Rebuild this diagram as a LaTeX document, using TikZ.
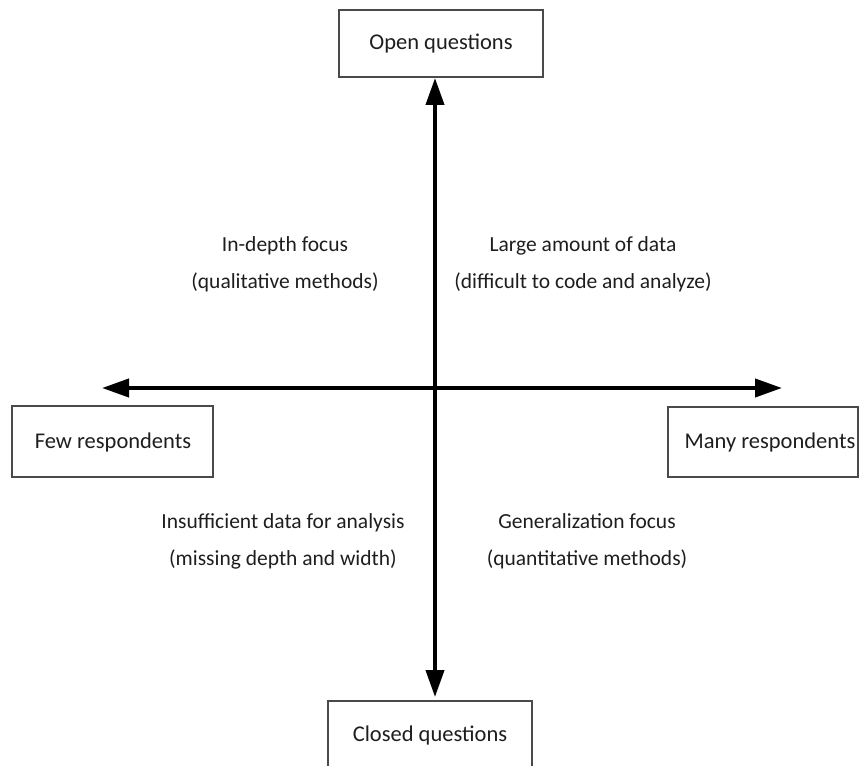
\documentclass[tikz,border=0pt]{standalone}
\usepackage{fontspec}
\setmainfont{Carlito}
\usetikzlibrary{arrows.meta}
\definecolor{ink}{HTML}{1E1E1E}
\definecolor{frame}{HTML}{4A4A4A}
\begin{document}
\begin{tikzpicture}[x=1pt,y=-1pt,
  labelbox/.style={draw=frame,line width=1.3pt,fill=white},
  labeltext/.style={text=ink,font=\fontsize{22.5}{26}\selectfont},
  note/.style={text=ink,align=center,font=\fontsize{21.5}{37}\selectfont},
  axis/.style={line width=4pt,-{Triangle[length=27pt,width=18pt]}}]
  \useasboundingbox (0,0) rectangle (861,765);
  % outer boxes with their captions
  \draw[labelbox] (339,10) rectangle (543,77);
  \node[labeltext] (open) at (441,44) {Open questions};
  \draw[labelbox] (12,406) rectangle (213,477);
  \node[labeltext] (few) at (113,442) {Few respondents};
  \draw[labelbox] (668,407) rectangle (858,477);
  \node[labeltext] (many) at (770,442) {Many respondents};
  \draw[labelbox] (328,701) rectangle (532,770);
  \node[labeltext] (closed) at (430,735) {Closed questions};
  % axes
  \coordinate (c) at (435,388);
  \coordinate (top) at (435,78);
  \coordinate (bot) at (435,697);
  \coordinate (lft) at (102,388);
  \coordinate (rgt) at (782,388);
  \draw[axis] (c) -- (top);
  \draw[axis] (c) -- (bot);
  \draw[axis] (c) -- (lft);
  \draw[axis] (c) -- (rgt);
  % quadrant notes
  \node[note] (q1) at (285,264) {In-depth focus\\(qualitative methods)};
  \node[note] (q2) at (583,264) {Large amount of data\\(difficult to code and analyze)};
  \node[note] (q3) at (283,541) {Insufficient data for analysis\\(missing depth and width)};
  \node[note] (q4) at (587,541) {Generalization focus\\(quantitative methods)};
\end{tikzpicture}
\end{document}
